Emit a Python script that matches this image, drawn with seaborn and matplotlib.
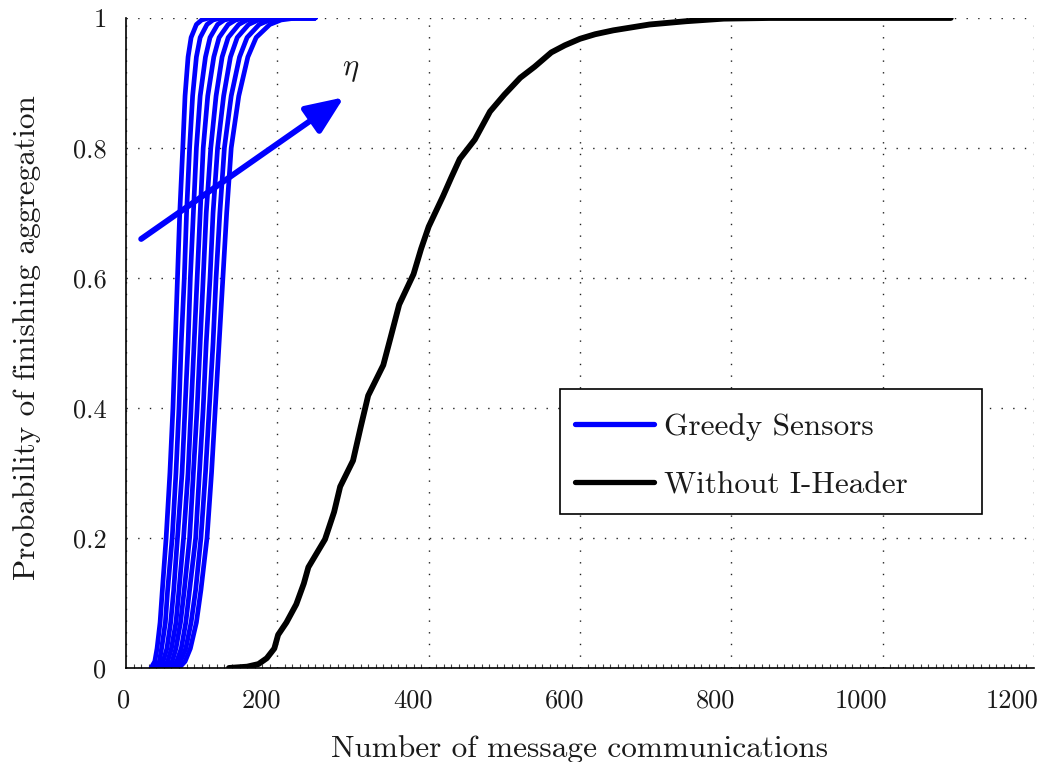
import matplotlib
matplotlib.use("Agg")
import matplotlib.pyplot as plt
from matplotlib.lines import Line2D
from matplotlib.patches import Rectangle
from matplotlib.ticker import MultipleLocator
from matplotlib.transforms import ScaledTranslation
import pandas as pd
import seaborn as sns

# Probability levels shared by the greedy-sensor curves
levels_y = [0.0, 0.01, 0.03, 0.07, 0.12, 0.2, 0.3, 0.4, 0.5, 0.6, 0.7,
            0.8, 0.88, 0.94, 0.97, 0.99, 0.997, 1.0]

# Message counts at each level, one list per value of eta (increasing)
eta_1 = [33, 38, 41, 45, 48, 53, 58, 62, 65, 68, 71, 75, 78, 82, 86, 93, 100, 110]
eta_2 = [38, 44, 47, 52, 55, 61, 66, 70, 73, 77, 80, 84, 88, 93, 98, 107, 115, 126]
eta_3 = [43, 49, 54, 59, 63, 68, 74, 78, 82, 85, 89, 93, 98, 105, 111, 121, 130, 143]
eta_4 = [49, 55, 60, 66, 70, 76, 82, 86, 90, 94, 98, 102, 108, 116, 123, 135, 145, 159]
eta_5 = [54, 61, 66, 72, 77, 84, 89, 94, 98, 102, 106, 112, 119, 127, 135, 149, 160, 176]
eta_6 = [59, 67, 73, 79, 84, 92, 97, 102, 106, 111, 115, 121, 129, 138, 147, 162, 175, 192]
eta_7 = [65, 72, 79, 86, 92, 99, 105, 110, 115, 119, 124, 130, 139, 150, 160, 176, 190, 208]
eta_8 = [70, 78, 85, 93, 99, 107, 113, 118, 123, 128, 133, 139, 149, 161, 172, 190, 205, 225]
greedy_curves = [eta_1, eta_2, eta_3, eta_4, eta_5, eta_6, eta_7, eta_8]
greedy_end_x = 250

# Empirical curve without I-Header
no_header_x = [136, 160, 175, 186, 196, 201, 212, 225, 235, 241, 263, 275, 283,
               300, 310, 320, 340, 350, 361, 380, 390, 400, 419, 430, 441, 461,
               481, 500, 521, 540, 562, 580, 600, 620, 644, 692, 740, 790, 850, 1090]
no_header_y = [0.0, 0.002, 0.006, 0.015, 0.03, 0.051, 0.07, 0.098, 0.13, 0.155,
               0.198, 0.24, 0.279, 0.319, 0.37, 0.419, 0.466, 0.51, 0.559, 0.606,
               0.645, 0.679, 0.726, 0.755, 0.783, 0.813, 0.856, 0.882, 0.908,
               0.925, 0.947, 0.958, 0.968, 0.975, 0.981, 0.990, 0.995, 0.999,
               1.0, 1.0]

x_ticks = [0, 200, 400, 600, 800, 1000, 1200]
y_ticks = [0, 0.2, 0.4, 0.6, 0.8, 1]
y_tick_labels = ["0", "0.2", "0.4", "0.6", "0.8", "1"]

BLUE = "#0000ff"
TEXT = "#1a1a1a"

sns.set_theme(style="white")
plt.rcParams["font.family"] = ["cmr10", "DejaVu Serif"]
plt.rcParams["mathtext.fontset"] = "cm"
plt.rcParams["axes.formatter.use_mathtext"] = True
plt.rcParams["axes.unicode_minus"] = False

rows = []
for k, xs in enumerate(greedy_curves):
    for x, y in zip(xs + [greedy_end_x], levels_y + [1.0]):
        rows.append({"curve": k, "x": x, "y": y})
greedy_df = pd.DataFrame(rows)
no_header_df = pd.DataFrame({"x": no_header_x, "y": no_header_y})

fig = plt.figure(figsize=(10.45, 7.62), dpi=100)
ax = fig.add_axes([0.1206, 0.1234, 0.8689, 0.853])

sns.lineplot(data=greedy_df, x="x", y="y", units="curve", estimator=None,
             sort=False, color=BLUE, lw=3.4, ax=ax)
sns.lineplot(data=no_header_df, x="x", y="y", estimator=None, sort=False,
             color="black", lw=4.2, ax=ax)

ax.set_xlim(0, 1200)
ax.set_ylim(0, 1)
ax.set_xticks(x_ticks)
ax.set_xticklabels([str(v) for v in x_ticks])
ax.set_yticks(y_ticks)
ax.set_yticklabels(y_tick_labels)
ax.xaxis.set_minor_locator(MultipleLocator(10))

ax.grid(True, which="major", color="#222222", lw=1.0, linestyle=(0, (1, 7.4)))
for side in ("top", "right"):
    ax.spines[side].set_visible(False)
for side in ("left", "bottom"):
    ax.spines[side].set_color("black")
    ax.spines[side].set_linewidth(1.2)

ax.tick_params(axis="both", which="major", direction="in", length=5, width=1,
               color="black", labelsize=19, labelcolor=TEXT)
ax.tick_params(axis="x", which="major", pad=15)
ax.tick_params(axis="y", which="major", pad=14)
ax.tick_params(axis="x", which="minor", direction="in", length=3, width=0.8,
               color="#444444", bottom=True)

# x tick labels sit just left of their ticks
shift = ScaledTranslation(3 / 72, 0, fig.dpi_scale_trans)
for lbl in ax.get_xticklabels():
    lbl.set_horizontalalignment("right")
    lbl.set_transform(lbl.get_transform() + shift)

ax.set_xlabel("Number of message communications", fontsize=22.5,
              color=TEXT, labelpad=16)
ax.set_ylabel("Probability of finishing aggregation", fontsize=22.5,
              color=TEXT)
ax.yaxis.set_label_coords(-0.094, 0.508)

# Direction of increasing eta
ax.annotate("", xy=(288, 0.878), xytext=(20, 0.66),
            arrowprops=dict(arrowstyle="-|>,head_length=1.0,head_width=0.42",
                            color=BLUE, lw=4.2, mutation_scale=23,
                            shrinkA=0, shrinkB=0))
ax.text(297, 0.92, r"$\eta$", fontsize=22, color=TEXT,
        ha="center", va="center")

# Legend box
ax.add_patch(Rectangle((0.478, 0.237), 0.465, 0.192, transform=ax.transAxes,
                       facecolor="white", edgecolor="black", lw=1.2,
                       zorder=4))
handles = [Line2D([], [], color=BLUE, lw=3.8),
           Line2D([], [], color="black", lw=3.8)]
leg = ax.legend(handles, ["Greedy Sensors", "Without I-Header"],
                loc="upper left", bbox_to_anchor=(0.476, 0.418),
                borderaxespad=0, fontsize=22.5, frameon=False,
                handlelength=2.5, handletextpad=0.35, borderpad=0.55,
                labelspacing=0.95)
leg.set_zorder(5)
for t in leg.get_texts():
    t.set_color(TEXT)

fig.savefig("out.png", dpi=100)
